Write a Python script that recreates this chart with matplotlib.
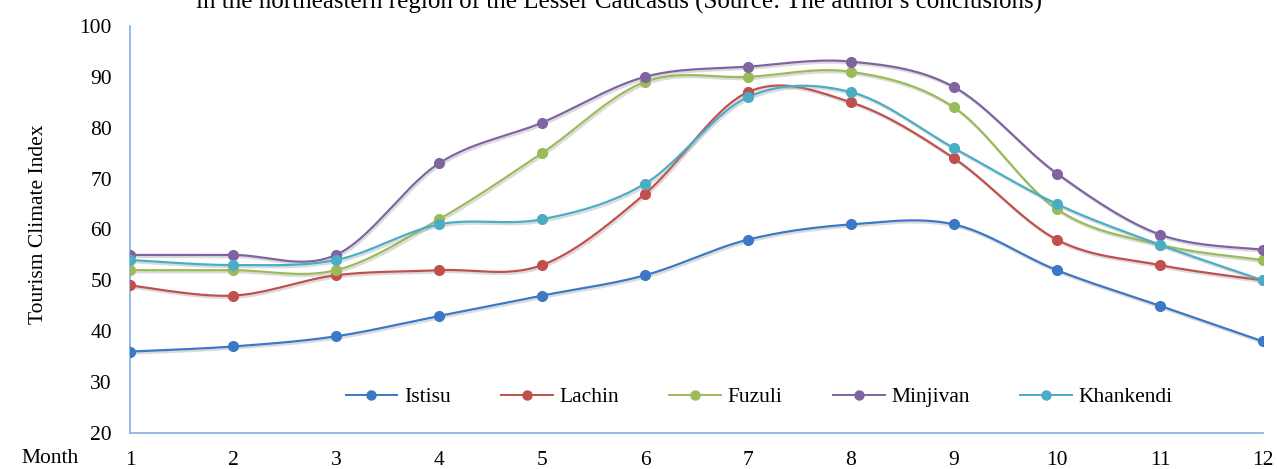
import numpy as np
import matplotlib
matplotlib.use("Agg")
import matplotlib.pyplot as plt
import matplotlib.patheffects as pe

months = list(range(1, 13))
istisu = [36, 37, 39, 43, 47, 51, 58, 61, 61, 52, 45, 38]
lachin = [49, 47, 51, 52, 53, 67, 87, 85, 74, 58, 53, 50]
fuzuli = [52, 52, 52, 62, 75, 89, 90, 91, 84, 64, 57, 54]
minjivan = [55, 55, 55, 73, 81, 90, 92, 93, 88, 71, 59, 56]
khankendi = [54, 53, 54, 61, 62, 69, 86, 87, 76, 65, 57, 50]

series_names = ["Istisu", "Lachin", "Fuzuli", "Minjivan", "Khankendi"]
series_values = [istisu, lachin, fuzuli, minjivan, khankendi]
colors = ["#3B78C5", "#C0504D", "#9BBB59", "#8064A2", "#4BACC6"]


def smooth(x, y, n=30):
    # Excel-like smoothing: cubic Bezier with Catmull-Rom control points
    x = np.asarray(x, float)
    y = np.asarray(y, float)
    xs, ys = [], []
    for i in range(len(x) - 1):
        p0 = np.array([x[max(i - 1, 0)], y[max(i - 1, 0)]])
        p1 = np.array([x[i], y[i]])
        p2 = np.array([x[i + 1], y[i + 1]])
        p3 = np.array([x[min(i + 2, len(x) - 1)], y[min(i + 2, len(x) - 1)]])
        c1 = p1 + (p2 - p0) / 6
        c2 = p2 - (p3 - p1) / 6
        t = np.linspace(0, 1, n)[:, None]
        pts = ((1 - t) ** 3 * p1 + 3 * (1 - t) ** 2 * t * c1
               + 3 * (1 - t) * t ** 2 * c2 + t ** 3 * p2)
        xs.extend(pts[:, 0])
        ys.extend(pts[:, 1])
    return xs, ys


plt.rcParams["font.family"] = ["Liberation Serif", "DejaVu Serif"]
fs = 15.5

fig = plt.figure(figsize=(12.77, 4.69), dpi=100)
ax = fig.add_axes([0.1018, 0.0768, 0.8872, 0.8678])

shadow = [pe.SimpleLineShadow(offset=(1, -1.5), shadow_color="0.6", alpha=0.35), pe.Normal()]
for name, vals, col in zip(series_names, series_values, colors):
    sx, sy = smooth(months, vals)
    ax.plot(sx, sy, color=col, lw=1.6, path_effects=shadow, zorder=2)
    ax.plot(months, vals, "o", color=col, ms=7, zorder=3)
    ax.plot([], [], "-o", color=col, lw=1.4, ms=6.5, label=name)

ax.set_xlim(1, 12)
ax.set_ylim(20, 100)
ax.set_xticks(months)
ax.set_yticks(range(20, 101, 10))
ax.tick_params(length=0, labelsize=fs)
ax.tick_params(axis="x", pad=13)
ax.tick_params(axis="y", pad=13)
for s in ["top", "right"]:
    ax.spines[s].set_visible(False)
for s in ["left", "bottom"]:
    ax.spines[s].set_color("#8EB4E3")
    ax.spines[s].set_linewidth(1.3)

fig.text(39 / 1277, 1 - 224 / 469, "Tourism Climate Index", fontsize=fs,
         rotation=90, ha="center", va="center")
fig.text(50 / 1277, 1 - 458 / 469, "Month", fontsize=fs, ha="center", va="center")
fig.text(619 / 1277, 1 - 2 / 469,
         "in the northeastern region of the Lesser Caucasus (Source: The author's conclusions)",
         fontsize=18, ha="center", va="center")

ax.legend(loc="center", bbox_to_anchor=(759 / 1277, 1 - 397 / 469),
          bbox_transform=fig.transFigure, ncol=5, frameon=False,
          fontsize=fs, handlelength=2.4, columnspacing=2.35, handletextpad=0.3)

fig.savefig("out.png", dpi=100)
